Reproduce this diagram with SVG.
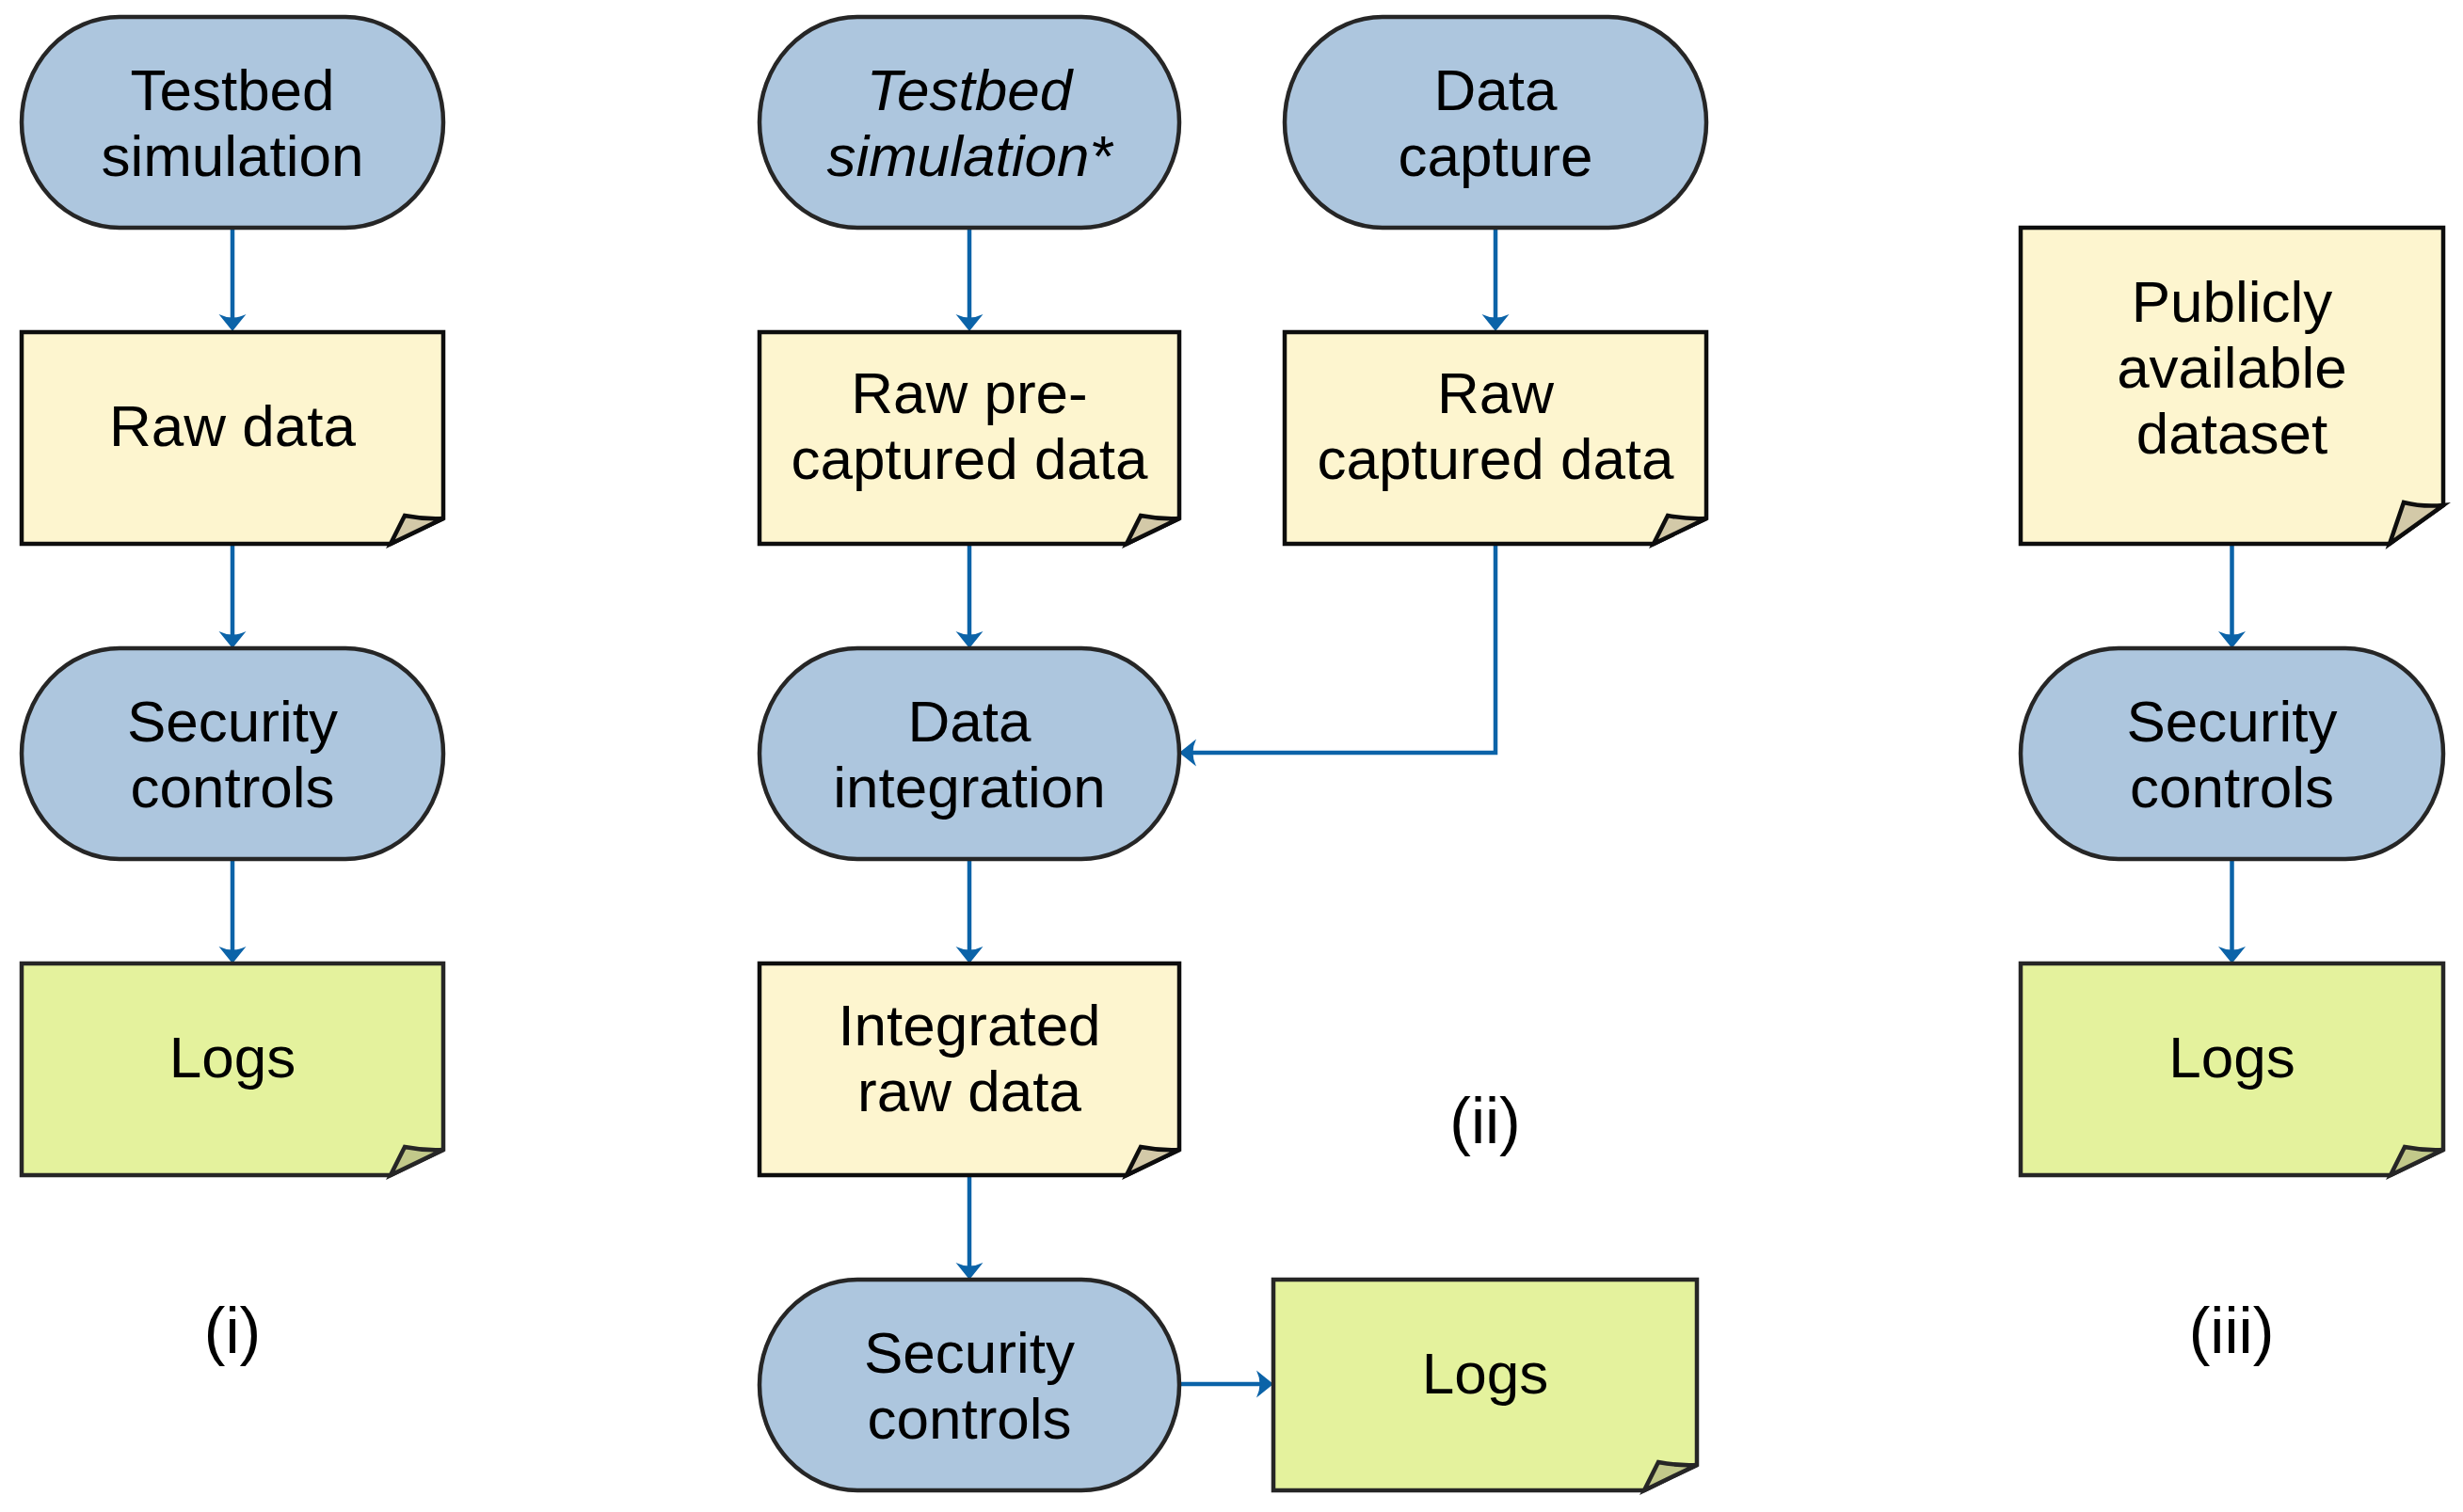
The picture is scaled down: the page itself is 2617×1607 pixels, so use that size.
<svg xmlns="http://www.w3.org/2000/svg" width="2617" height="1607" viewBox="0 0 2617 1607">
<style>
.pill{fill:#adc6de;stroke:#262626;stroke-width:4.5}
.note{fill:#fdf5cf;stroke:#0d0d0d;stroke-width:4.5;stroke-linejoin:miter}
.flap{fill:#d3c9a8;stroke:#0d0d0d;stroke-width:4.5;stroke-linejoin:miter}
.lnote{fill:#e4f29d;stroke:#262626;stroke-width:4.5}
.lflap{fill:#c2c98a;stroke:#262626;stroke-width:4.5}
text{font-family:"Liberation Sans",Arial,Helvetica,sans-serif;font-size:62px;fill:#000;text-anchor:middle}
.it{font-style:italic}
.lbl{font-size:68px}
.con{fill:none;stroke:#0b63a8;stroke-width:4.5;marker-end:url(#ah)}
</style>
<defs>
<marker id="ah" markerUnits="userSpaceOnUse" viewBox="-20 -16 22 32" refX="-14" refY="0" markerWidth="22" markerHeight="32" orient="auto">
<path d="M0,0 L-18,-14.5 Q-11,0 -18,14.5 Z" fill="#0b63a8"/>
</marker>
</defs>
<rect width="2617" height="1607" fill="#fff"/>

<g id="connectors">
<path class="con" d="M247,242 V338"/>
<path class="con" d="M247,578 V675"/>
<path class="con" d="M247,913 V1010"/>
<path class="con" d="M1030,242 V338"/>
<path class="con" d="M1030,578 V675"/>
<path class="con" d="M1030,913 V1010"/>
<path class="con" d="M1030,1249 V1346"/>
<path class="con" d="M1589,242 V338"/>
<path class="con" d="M1589,578 V800 H1267"/>
<path class="con" d="M1253,1471 H1339"/>
<path class="con" d="M2371.5,578 V675"/>
<path class="con" d="M2371.5,913 V1010"/>
</g>

<g id="n1">
<rect class="pill" x="23" y="18" width="448" height="224" rx="104" ry="112"/>
<text x="247" y="117">Testbed</text>
<text x="247" y="187">simulation</text>
</g>
<g id="n2">
<path class="note" d="M23,353 H471 V551 L415,578 H23 Z"/>
<path class="flap" d="M415,578 L430,548 Q450,552 471,551 Z"/>
<text x="247" y="474">Raw data</text>
</g>
<g id="n3">
<rect class="pill" x="23" y="689" width="448" height="224" rx="104" ry="112"/>
<text x="247" y="788">Security</text>
<text x="247" y="858">controls</text>
</g>
<g id="n4">
<path class="lnote" d="M23,1024 H471 V1222 L415,1249 H23 Z"/>
<path class="lflap" d="M415,1249 L430,1219 Q450,1223 471,1222 Z"/>
<text x="247" y="1145">Logs</text>
</g>

<g id="n5">
<rect class="pill" x="807" y="18" width="446" height="224" rx="104" ry="112"/>
<text class="it" x="1030" y="117">Testbed</text>
<text class="it" x="1030" y="187">simulation*</text>
</g>
<g id="n6">
<path class="note" d="M807,353 H1253 V551 L1197,578 H807 Z"/>
<path class="flap" d="M1197,578 L1212,548 Q1232,552 1253,551 Z"/>
<text x="1030" y="439">Raw pre-</text>
<text x="1030" y="509">captured data</text>
</g>
<g id="n7">
<rect class="pill" x="807" y="689" width="446" height="224" rx="104" ry="112"/>
<text x="1030" y="788">Data</text>
<text x="1030" y="858">integration</text>
</g>
<g id="n8">
<path class="note" d="M807,1024 H1253 V1222 L1197,1249 H807 Z"/>
<path class="flap" d="M1197,1249 L1212,1219 Q1232,1223 1253,1222 Z"/>
<text x="1030" y="1111">Integrated</text>
<text x="1030" y="1181">raw data</text>
</g>
<g id="n9">
<rect class="pill" x="807" y="1360" width="446" height="224" rx="104" ry="112"/>
<text x="1030" y="1459">Security</text>
<text x="1030" y="1529">controls</text>
</g>
<g id="n10">
<path class="lnote" d="M1353,1360 H1803 V1557 L1747,1584 H1353 Z"/>
<path class="lflap" d="M1747,1584 L1762,1554 Q1782,1558 1803,1557 Z"/>
<text x="1578" y="1481">Logs</text>
</g>

<g id="n11">
<rect class="pill" x="1365" y="18" width="448" height="224" rx="104" ry="112"/>
<text x="1589" y="117">Data</text>
<text x="1589" y="187">capture</text>
</g>
<g id="n12">
<path class="note" d="M1365,353 H1813 V551 L1757,578 H1365 Z"/>
<path class="flap" d="M1757,578 L1772,548 Q1792,552 1813,551 Z"/>
<text x="1589" y="439">Raw</text>
<text x="1589" y="509">captured data</text>
</g>

<g id="n13">
<path class="note" d="M2147,242 H2596 V537 L2539,578 H2147 Z"/>
<path class="flap" d="M2539,578 L2554,534 Q2574,539 2596,537 Z"/>
<text x="2371.5" y="342">Publicly</text>
<text x="2371.5" y="412">available</text>
<text x="2371.5" y="482">dataset</text>
</g>
<g id="n14">
<rect class="pill" x="2147" y="689" width="449" height="224" rx="104" ry="112"/>
<text x="2371.5" y="788">Security</text>
<text x="2371.5" y="858">controls</text>
</g>
<g id="n15">
<path class="lnote" d="M2147,1024 H2596 V1222 L2540,1249 H2147 Z"/>
<path class="lflap" d="M2540,1249 L2555,1219 Q2575,1223 2596,1222 Z"/>
<text x="2371.5" y="1145">Logs</text>
</g>

<g id="labels">
<text class="lbl" x="247" y="1438">(i)</text>
<text class="lbl" x="1578" y="1215">(ii)</text>
<text class="lbl" x="2371" y="1438">(iii)</text>
</g>
</svg>
